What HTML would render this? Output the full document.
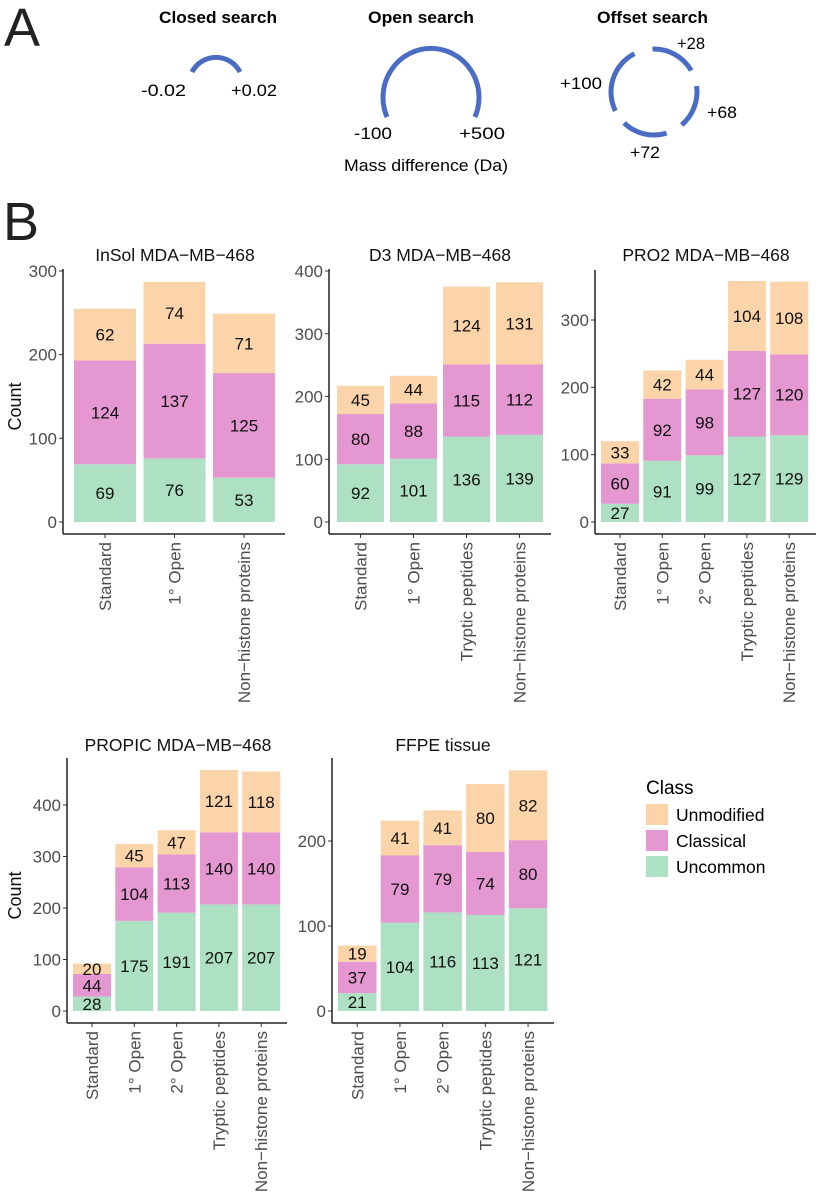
<!DOCTYPE html>
<html><head><meta charset="utf-8">
<style>
html,body{margin:0;padding:0;background:#fff;}
svg{display:block;font-family:"Liberation Sans",Arial,sans-serif;}
</style></head>
<body>
<svg id="fig" width="819" height="1200" viewBox="0 0 819 1200">
  <g>
    <text x="4" y="46" font-size="54" fill="#222">A</text>
    <text x="159" y="23" font-size="17" font-weight="bold" textLength="118" lengthAdjust="spacingAndGlyphs">Closed search</text>
    <text x="368" y="23" font-size="17" font-weight="bold" textLength="106" lengthAdjust="spacingAndGlyphs">Open search</text>
    <text x="597" y="23" font-size="17" font-weight="bold" textLength="111" lengthAdjust="spacingAndGlyphs">Offset search</text>
    <path d="M192 72 A27 27 0 0 1 240 72" fill="none" stroke="#4a6cc4" stroke-width="5"/>
    <text x="141" y="96" font-size="17" textLength="45" lengthAdjust="spacingAndGlyphs">-0.02</text>
    <text x="231" y="96" font-size="17" textLength="46" lengthAdjust="spacingAndGlyphs">+0.02</text>
    <path d="M387 117 A48 49 0 1 1 475 117" fill="none" stroke="#4a6cc4" stroke-width="5"/>
    <text x="354" y="139" font-size="17" textLength="38" lengthAdjust="spacingAndGlyphs">-100</text>
    <text x="459" y="139" font-size="17" textLength="46" lengthAdjust="spacingAndGlyphs">+500</text>
    <text x="344" y="171" font-size="17" textLength="164" lengthAdjust="spacingAndGlyphs">Mass difference (Da)</text>
    <g id="offset"></g>
    <text x="677" y="49" font-size="17" textLength="28" lengthAdjust="spacingAndGlyphs">+28</text>
    <text x="560" y="89" font-size="17" textLength="42" lengthAdjust="spacingAndGlyphs">+100</text>
    <text x="707" y="118" font-size="17" textLength="30" lengthAdjust="spacingAndGlyphs">+68</text>
    <text x="630" y="158" font-size="17" textLength="30" lengthAdjust="spacingAndGlyphs">+72</text>
  </g>
  <text x="3" y="240" font-size="54" fill="#222">B</text>
  <g id="charts"></g>
  <g>
    <text x="646" y="794" font-size="19">Class</text>
    <rect x="646" y="804" width="22" height="21" fill="#fcd4aa"/>
    <text x="676" y="821" font-size="17.5">Unmodified</text>
    <rect x="646" y="830" width="22" height="21" fill="#e497d0"/>
    <text x="676" y="847" font-size="17.5">Classical</text>
    <rect x="646" y="856" width="22" height="21" fill="#aee0c4"/>
    <text x="676" y="873" font-size="17.5">Uncommon</text>
  </g>
</svg>
<script>
// ---- data ----
const titles = ["InSol MDA\u2212MB\u2212468","D3 MDA\u2212MB\u2212468","PRO2 MDA\u2212MB\u2212468","PROPIC MDA\u2212MB\u2212468","FFPE tissue"];
const cats1 = ["Standard","1\u00b0 Open","Non\u2212histone proteins"];
const cats2 = ["Standard","1\u00b0 Open","Tryptic peptides","Non\u2212histone proteins"];
const cats5 = ["Standard","1\u00b0 Open","2\u00b0 Open","Tryptic peptides","Non\u2212histone proteins"];
const uncommon1 = [69,76,53];
const classical1 = [124,137,125];
const unmodified1 = [62,74,71];
const uncommon2 = [92,101,136,139];
const classical2 = [80,88,115,112];
const unmodified2 = [45,44,124,131];
const uncommon3 = [27,91,99,127,129];
const classical3 = [60,92,98,127,120];
const unmodified3 = [33,42,44,104,108];
const uncommon4 = [28,175,191,207,207];
const classical4 = [44,104,113,140,140];
const unmodified4 = [20,45,47,121,118];
const uncommon5 = [21,104,116,113,121];
const classical5 = [37,79,79,74,80];
const unmodified5 = [19,41,41,80,82];
const ticks1 = [0,100,200,300];
const ticks2 = [0,100,200,300,400];
const ticks3 = [0,100,200,300];
const ticks4 = [0,100,200,300,400];
const ticks5 = [0,100,200];
const offsetArcs = [[-92,-30],[-8,50],[73,134],[154,243]];

// ---- layout ----
const NS = "http://www.w3.org/2000/svg";
const colors = {unc:"#aee0c4", cla:"#e497d0", unm:"#fcd4aa"};
function mk(tag, attrs, parent){
  const e = document.createElementNS(NS, tag);
  for (const k in attrs) e.setAttribute(k, attrs[k]);
  parent.appendChild(e);
  return e;
}
const og = document.getElementById("offset");
offsetArcs.forEach((a,i)=>{
  const cx=654, cy=92, r=43;
  const rad = d=>d*Math.PI/180;
  const x1=cx+r*Math.cos(rad(a[0])), y1=cy+r*Math.sin(rad(a[0]));
  const x2=cx+r*Math.cos(rad(a[1])), y2=cy+r*Math.sin(rad(a[1]));
  const p = mk("path",{d:`M${x1} ${y1} A${r} ${r} 0 0 1 ${x2} ${y2}`,fill:"none",stroke:"#4a6cc4","stroke-width":5},og);
  
  
});

const charts = [
  {t:titles[0],cats:cats1,u:uncommon1,c:classical1,m:unmodified1,ticks:ticks1,ax:63,bx:74,step:69.5,bw:62,zero:522,ppu:251/300,top:269,end:285,tx:175,ty:261,base:534,count:true},
  {t:titles[1],cats:cats2,u:uncommon2,c:classical2,m:unmodified2,ticks:ticks2,ax:329,bx:337,step:53,bw:47,zero:522,ppu:251/400,top:269,end:551,tx:440,ty:261,base:534,count:false},
  {t:titles[2],cats:cats5,u:uncommon3,c:classical3,m:unmodified3,ticks:ticks3,ax:595,bx:601,step:42.3,bw:38,zero:522,ppu:202/300,top:270,end:816,tx:706,ty:261,base:534,count:false},
  {t:titles[3],cats:cats5,u:uncommon4,c:classical4,m:unmodified4,ticks:ticks4,ax:67,bx:73,step:42.3,bw:38,zero:1011,ppu:206/400,top:758,end:287,tx:178,ty:751,base:1023,count:true},
  {t:titles[4],cats:cats5,u:uncommon5,c:classical5,m:unmodified5,ticks:ticks5,ax:332,bx:338,step:42.7,bw:38.5,zero:1011,ppu:170/200,top:758,end:554,tx:443,ty:751,base:1023,count:false}
];
const root = document.getElementById("charts");
charts.forEach((ch,ci)=>{
  const g = mk("g",{},root);
  
  
  const y = v=>ch.zero - v*ch.ppu;
  const title = mk("text",{x:ch.tx,y:ch.ty,"text-anchor":"middle","font-size":17.5,fill:"#111"},g);
  title.textContent = ch.t;
  
  
  ch.cats.forEach((cat,i)=>{
    const x = ch.bx + i*ch.step, cx = x + ch.bw/2;
    const segs = [[0,ch.u[i],colors.unc,'bar-uncommon'],[ch.u[i],ch.c[i],colors.cla,'bar-classical'],[ch.u[i]+ch.c[i],ch.m[i],colors.unm,'bar-unmodified']];
    segs.forEach(s=>{
      const r = mk("rect",{x:x,y:y(s[0]+s[1]),width:ch.bw,height:s[1]*ch.ppu,fill:s[2]},g);
      
      
      const lt = mk("text",{x:cx,y:y(s[0]+s[1]/2)+6,"text-anchor":"middle","font-size":17,fill:"#111"},g);
      lt.textContent = s[1];
      
      
    });
    const tk = mk("line",{x1:cx,x2:cx,y1:ch.base,y2:ch.base+4,stroke:"#333","stroke-width":1},g);
    
    
    const xl = mk("text",{x:0,y:0,"text-anchor":"end","font-size":17,fill:"#4d4d4d",transform:`translate(${cx+6},${ch.base+8}) rotate(-90)`},g);
    xl.textContent = cat;
    
    
  });
  ch.ticks.forEach(t=>{
    const tl = mk("line",{x1:ch.ax-4,x2:ch.ax,y1:y(t),y2:y(t),stroke:"#333","stroke-width":1},g);
    
    
    const tt = mk("text",{x:ch.ax-6,y:y(t)+6,"text-anchor":"end","font-size":17,fill:"#4d4d4d"},g);
    tt.textContent = t;
    
    
  });
  const ya = mk("line",{x1:ch.ax,x2:ch.ax,y1:ch.top,y2:ch.base,stroke:"#222","stroke-width":1.5},g);
  
  
  const xa = mk("line",{x1:ch.ax,x2:ch.end,y1:ch.base,y2:ch.base,stroke:"#222","stroke-width":1.5},g);
  
  
  if (ch.count){
    const cy = (ch.top+ch.base)/2 + 5;
    const ct = mk("text",{x:0,y:0,"text-anchor":"middle","font-size":18,fill:"#111",transform:`translate(21,${cy}) rotate(-90)`},g);
    ct.textContent = "Count";
    
    
  }
});
</script>
</body></html>
